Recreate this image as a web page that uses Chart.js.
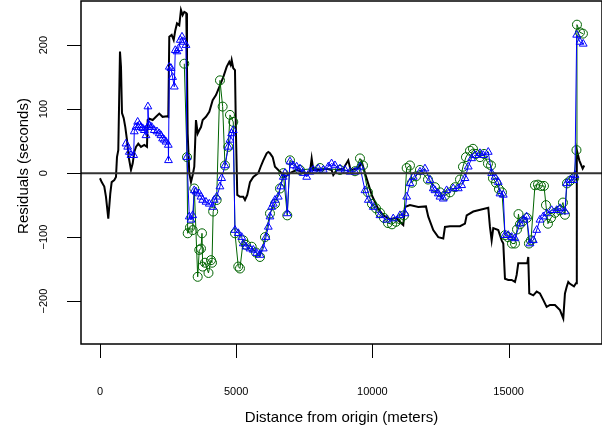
<!DOCTYPE html>
<html>
<head>
<meta charset="utf-8">
<script src="https://cdn.jsdelivr.net/npm/chart.js@4.4.1/dist/chart.umd.min.js"></script>
<style>
  html, body { margin: 0; padding: 0; background: #fff; }
  canvas { display: block; }
</style>
</head>
<body>
<canvas id="resid" width="602" height="429"></canvas>
<script>
// distance (m) and residuals (s)

// black: raw residuals
var blackX = [0,62,158,220,305,378,429,525,587,624,672,734,771,808,870,929,991,1054,1138,1200,1259,1322,1406,1505,1626,1725,1751,1810,1935,2056,2177,2298,2460,2508,2544,2632,2706,2764,2827,2911,2973,3035,3095,3168,3194,3219,3278,3341,3403,3462,3524,3587,3645,3708,3770,3891,4013,4137,4258,4405,4526,4650,4746,4797,4834,4893,4956,4992,5040,5139,5260,5323,5407,5507,5628,5811,5899,5995,6119,6179,6241,6340,6424,6546,6670,6791,6975,7221,7405,7588,7709,7771,7830,8076,8322,8502,8565,8690,8932,9115,9200,9500,9606,9728,9985,10206,10401,10646,10866,11134,11196,11380,11685,11967,12052,12235,12419,12603,12665,12849,13216,13399,13462,13704,13887,14254,14317,14379,14438,14622,14747,14806,14868,14989,15114,15235,15297,15356,15481,15686,15723,15760,15907,16032,16152,16273,16398,16520,16703,16887,17008,17070,17132,17192,17254,17401,17474,17490,17505,17596,17720,17778];
var blackY = [-8,-14,-21,-37,-71,-32,-14,-11,-6,25,36,190,166,94,86,72,52,25,5,15,33,41,46,41,44,41,83,85,83,88,93,88,89,88,213,216,208,223,234,231,255,247,252,250,166,62,0,-14,-3,10,83,62,67,72,83,88,96,114,122,137,150,166,174,169,177,164,161,62,-34,-37,-37,-42,-34,-14,-6,0,10,20,31,33,31,25,10,5,0,-6,0,5,2,0,2,23,5,5,7,5,-3,5,7,20,5,8,18,0,-35,-55,-66,-72,-70,-81,-53,-50,-53,-52,-68,-89,-100,-102,-84,-83,-83,-79,-66,-60,-58,-54,-84,-105,-86,-89,-105,-110,-165,-167,-167,-170,-159,-141,-141,-141,-131,-188,-191,-185,-188,-198,-209,-206,-206,-214,-227,-188,-178,-170,-173,-177,-172,-172,36,20,7,12];

// green circles
var greenX = [3095,3194,3220,3304,3403,3462,3587,3645,3708,3745,3770,3855,3983,4075,4112,4155,4283,4405,4503,4589,4710,4772,4893,4956,5077,5139,5260,5360,5569,5727,5874,6057,6241,6424,6608,6729,6876,6975,7342,8076,8810,9361,9545,9655,9838,9985,10132,10279,10426,10573,10720,10866,11013,11160,11259,11380,11453,11600,11747,12041,12298,12481,12665,12849,13032,13216,13326,13436,13583,13693,13803,13950,14097,14243,14354,14427,14537,14647,14757,14868,14978,15125,15235,15309,15364,15418,15528,15675,15748,15822,15969,16079,16189,16300,16373,16446,16556,16703,16887,16997,17070,17144,17254,17401,17493,17511,17620,17730];
var greenY = [171,25,-94,-85,-89,-24,-162,-120,-118,-94,-146,-140,-156,-136,-140,-60,-42,145,104,12,41,91,80,-94,-146,-149,-105,-112,-115,-124,-131,-100,-63,-48,-24,0,-66,20,5,8,5,3,23,12,-30,-48,-55,-62,-70,-78,-80,-76,-72,-66,8,12,-15,-5,5,-10,-22,-30,-35,-30,-22,-10,10,25,35,38,30,25,30,15,12,-8,-15,-25,-30,-97,-100,-110,-110,-88,-64,-80,-75,-70,-110,-105,-19,-18,-20,-20,-50,-79,-70,-62,-58,-46,-65,-16,-12,-8,36,232,220,218];

// blue triangles
var blueX = [954,1017,1076,1138,1237,1259,1322,1384,1443,1505,1567,1626,1689,1751,1760,1790,1810,1898,1993,2092,2177,2239,2298,2360,2423,2508,2515,2544,2606,2665,2728,2764,2827,2889,2948,3011,3073,3157,3194,3278,3341,3403,3462,3524,3645,3708,3770,3891,4013,4137,4195,4283,4405,4467,4589,4710,4772,4834,4893,4956,5077,5202,5260,5360,5507,5628,5752,5874,5995,6094,6179,6241,6303,6362,6424,6546,6634,6729,6791,6876,6975,7096,7221,7342,7463,7588,7709,7830,8014,8198,8381,8502,8627,8810,8994,9178,9361,9545,9728,9850,10033,10279,10524,10767,11013,11196,11259,11380,11501,11747,11931,12114,12235,12298,12419,12481,12603,12726,12970,13154,13278,13399,13520,13642,13766,13950,14071,14254,14379,14500,14622,14684,14806,14868,14989,15114,15235,15418,15539,15662,15785,15907,16032,16152,16273,16398,16582,16765,16887,17070,17132,17254,17375,17437,17500,17620,17741];
var blueY = [46,41,33,28,28,65,72,80,75,72,70,67,59,72,104,75,75,72,67,65,62,59,54,52,49,44,20,166,164,150,135,192,190,195,208,213,205,200,25,-68,-73,-66,-27,-29,-32,-37,-42,-45,-48,-53,-42,-37,-21,-8,12,41,52,62,67,-89,-94,-100,-110,-115,-118,-120,-125,-128,-118,-100,-84,-68,-53,-48,-42,-37,-21,-6,0,-63,18,12,10,7,0,-6,2,5,7,5,10,15,12,7,5,2,2,10,-27,-42,-53,-66,-73,-71,-66,-63,-37,-16,-6,2,7,-11,-24,-27,-32,-37,-40,-27,-24,-24,-19,-8,10,23,28,31,28,33,0,-6,-14,-32,-34,-97,-97,-100,-102,-79,-73,-68,-110,-105,-89,-73,-68,-63,-58,-58,-55,-60,-16,-11,-11,-3,216,205,202];

var xTicks = [0, 5000, 10000, 15000];
var yTicks = [-200, -100, 0, 100, 200];

function pts(xs, ys) {
  return xs.map(function (x, i) { return { x: x, y: ys[i] }; });
}

// R-style frame, ticks, zero line and axis text
var rDecor = {
  id: 'rDecor',
  afterDatasetsDraw: function (chart) {
    var ctx = chart.ctx, a = chart.chartArea;
    var y0 = chart.scales.y.getPixelForValue(0);
    ctx.save();
    ctx.strokeStyle = '#333';
    ctx.lineWidth = 2;
    ctx.beginPath();
    ctx.moveTo(a.left, y0);
    ctx.lineTo(a.right, y0);
    ctx.stroke();
    ctx.restore();
  },
  afterDraw: function (chart) {
    var ctx = chart.ctx, a = chart.chartArea;
    var xs = chart.scales.x, ys = chart.scales.y;
    ctx.save();
    ctx.strokeStyle = '#000';
    ctx.lineWidth = 1.5;
    ctx.strokeRect(a.left, a.top, a.right - a.left, a.bottom - a.top);

    // tick marks
    ctx.lineWidth = 1;
    ctx.beginPath();
    xTicks.forEach(function (v) {
      var px = Math.round(xs.getPixelForValue(v)) + 0.5;
      ctx.moveTo(px, a.bottom);
      ctx.lineTo(px, a.bottom + 14);
    });
    yTicks.forEach(function (v) {
      var py = Math.round(ys.getPixelForValue(v)) + 0.5;
      ctx.moveTo(a.left, py);
      ctx.lineTo(a.left - 14, py);
    });
    ctx.stroke();

    ctx.fillStyle = '#000';
    ctx.font = '11px "Liberation Sans", Arial, sans-serif';
    ctx.textAlign = 'center';
    ctx.textBaseline = 'middle';
    xTicks.forEach(function (v) {
      ctx.fillText(String(v), xs.getPixelForValue(v), 392);
    });
    yTicks.forEach(function (v) {
      ctx.save();
      ctx.translate(44, ys.getPixelForValue(v));
      ctx.rotate(-Math.PI / 2);
      ctx.fillText(String(v).replace('-', '\u2212'), 0, 0);
      ctx.restore();
    });

    ctx.font = '15px "Liberation Sans", Arial, sans-serif';
    ctx.fillText('Distance from origin (meters)', (a.left + a.right) / 2, 418);
    ctx.save();
    ctx.translate(24, 166);
    ctx.rotate(-Math.PI / 2);
    ctx.fillText('Residuals (seconds)', 0, 0);
    ctx.restore();
    ctx.restore();
  }
};

var ctx = document.getElementById('resid');

var chartData = {
  datasets: [{
    data: pts(blueX, blueY),
    showLine: true,
    borderColor: '#0000ff',
    borderWidth: 1,
    pointStyle: 'triangle',
    pointRadius: 4.5,
    pointBackgroundColor: 'rgba(0,0,0,0)',
    pointBorderColor: '#0000ff',
    pointBorderWidth: 1,
    order: 1
  }, {
    data: pts(greenX, greenY),
    showLine: true,
    borderColor: '#006400',
    borderWidth: 1,
    pointStyle: 'circle',
    pointRadius: 4.5,
    pointBackgroundColor: 'rgba(0,0,0,0)',
    pointBorderColor: '#006400',
    pointBorderWidth: 1,
    order: 2
  }, {
    data: pts(blackX, blackY),
    showLine: true,
    borderColor: '#000',
    borderWidth: 2,
    pointRadius: 0,
    order: 3
  }]
};

var chartOptions = {
  responsive: false,
  animation: false,
  layout: { autoPadding: false, padding: { top: 1, left: 0, right: 0, bottom: 0 } },
  plugins: { legend: { display: false }, tooltip: { enabled: false } },
  scales: {
    x: {
      type: 'linear',
      min: -697,
      max: 18430,
      afterFit: function (s) { s.height = 85; },
      ticks: { display: false },
      grid: { display: false },
      border: { display: false }
    },
    y: {
      type: 'linear',
      min: -267,
      max: 269,
      afterFit: function (s) { s.width = 81; },
      ticks: { display: false },
      grid: { display: false },
      border: { display: false }
    }
  }
};

var residChart = new Chart(ctx, {
  type: 'scatter',
  data: chartData,
  options: chartOptions,
  plugins: [rDecor]
});
</script>
</body>
</html>
